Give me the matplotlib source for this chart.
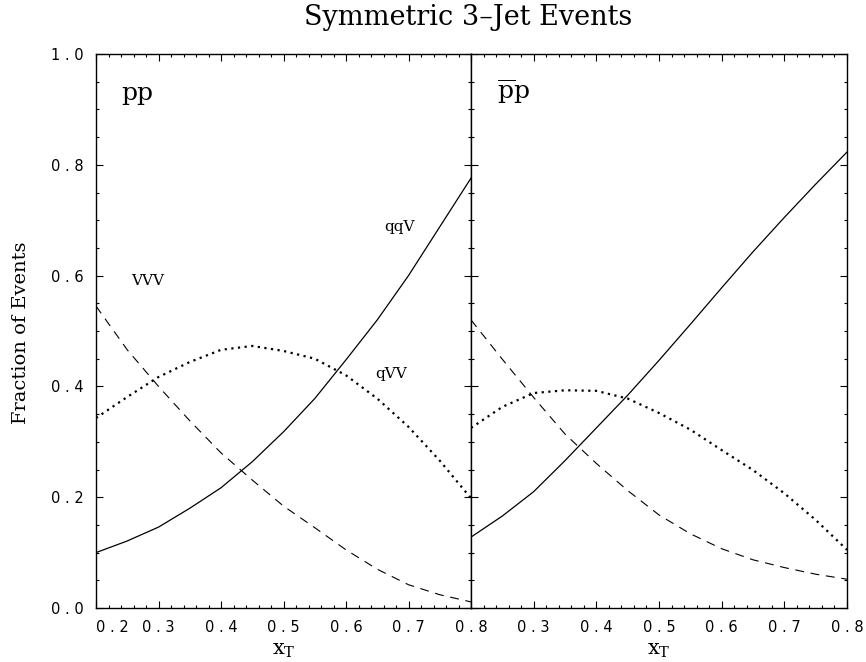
import matplotlib
matplotlib.use("Agg")
import matplotlib.pyplot as plt
from matplotlib.ticker import MultipleLocator

# values, every 0.05 in x_T
x_t = [0.20, 0.25, 0.30, 0.35, 0.40, 0.45, 0.50, 0.55, 0.60, 0.65, 0.70, 0.75, 0.80]

# pp panel
pp_qqv = [0.100, 0.121, 0.146, 0.180, 0.217, 0.264, 0.318, 0.378, 0.448, 0.520, 0.600, 0.688, 0.776]
pp_vvv = [0.545, 0.466, 0.400, 0.338, 0.280, 0.231, 0.184, 0.145, 0.105, 0.070, 0.042, 0.024, 0.011]
pp_qvv = [0.343, 0.381, 0.417, 0.444, 0.466, 0.473, 0.464, 0.450, 0.420, 0.378, 0.327, 0.266, 0.198]

# pbar-p panel
ppbar_qqv = [0.128, 0.166, 0.210, 0.266, 0.325, 0.384, 0.447, 0.512, 0.578, 0.643, 0.705, 0.765, 0.823]
ppbar_vvv = [0.520, 0.449, 0.380, 0.314, 0.261, 0.212, 0.168, 0.134, 0.107, 0.087, 0.073, 0.061, 0.052]
ppbar_qvv = [0.325, 0.363, 0.388, 0.393, 0.392, 0.378, 0.352, 0.322, 0.285, 0.249, 0.207, 0.159, 0.105]

x_ticks = [0.2, 0.3, 0.4, 0.5, 0.6, 0.7, 0.8]
left_xlabels = ["0 . 2", "0 . 3", "0 . 4", "0 . 5", "0 . 6", "0 . 7", "0 . 8"]
right_xlabels = ["", "0 . 3", "0 . 4", "0 . 5", "0 . 6", "0 . 7", "0 . 8"]
y_ticks = [0.0, 0.2, 0.4, 0.6, 0.8, 1.0]
y_labels = ["0 . 0", "0 . 2", "0 . 4", "0 . 6", "0 . 8", "1 . 0"]

plt.rcParams["mathtext.fontset"] = "dejavuserif"
serif = "DejaVu Serif"

fig = plt.figure(figsize=(8.66, 6.62), dpi=100)
ax1 = fig.add_axes([96 / 866, 1 - 608 / 662, 375 / 866, 554 / 662])
ax2 = fig.add_axes([471 / 866, 1 - 608 / 662, 376 / 866, 554 / 662])

solid = dict(color="black", lw=0.9, linestyle="-")
dashed = dict(color="black", lw=0.8, linestyle=(0, (8, 6)))
dotted = dict(color="black", lw=1.6, linestyle=(0, (1, 2.0)))

ax1.plot(x_t, pp_qqv, **solid)
ax1.plot(x_t, pp_vvv, **dashed)
ax1.plot(x_t, pp_qvv, **dotted)

ax2.plot(x_t, ppbar_qqv, **solid)
ax2.plot(x_t, ppbar_vvv, **dashed)
ax2.plot(x_t, ppbar_qvv, **dotted)

for ax, xl in [(ax1, left_xlabels), (ax2, right_xlabels)]:
    ax.set_xlim(0.2, 0.8)
    ax.set_ylim(0, 1)
    ax.xaxis.set_minor_locator(MultipleLocator(0.02))
    ax.yaxis.set_minor_locator(MultipleLocator(0.05))
    ax.set_xticks(x_ticks)
    ax.set_xticklabels(xl, fontsize=10.5, family="DejaVu Sans")
    ax.set_yticks(y_ticks)
    ax.tick_params(which="both", direction="in", top=True, right=True,
                   width=0.8, pad=9)
    ax.tick_params(which="major", length=5)
    ax.tick_params(which="minor", length=2.5)
    for s in ax.spines.values():
        s.set_linewidth(1.0)
    ax.set_xlabel(r"$\mathrm{x}_\mathrm{T}$", fontsize=15, labelpad=3)

ax1.set_yticklabels(y_labels, fontsize=10.5, family="DejaVu Sans")
ax2.set_yticklabels([])
ax1.get_xticklabels()[0].set_horizontalalignment("left")

# panel labels and curve names
ax1.text(0.241, 0.917, "pp", fontsize=18, family=serif, va="baseline")
ax2.text(0.241, 0.92, r"$\overline{\mathrm{p}}\mathrm{p}$", fontsize=18, va="baseline")
ax1.text(0.685, 0.688, "qqV", fontsize=11, family=serif, ha="center", va="center")
ax1.text(0.283, 0.590, "VVV", fontsize=11, family=serif, ha="center", va="center")
ax1.text(0.673, 0.422, "qVV", fontsize=11, family=serif, ha="center", va="center")

fig.text(0.540, 0.973, "Symmetric 3–Jet Events", fontsize=19.5, family=serif,
         ha="center", va="center")
fig.text(0.024, 0.498, "Fraction of Events", fontsize=14, family=serif,
         rotation=90, ha="center", va="center")

fig.savefig("out.png", dpi=100)
